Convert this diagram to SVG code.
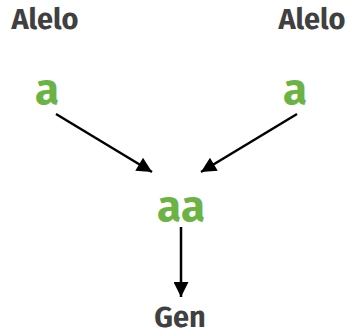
<svg xmlns="http://www.w3.org/2000/svg" width="347" height="335" viewBox="0 0 347 335">
<defs>
<marker id="ah" viewBox="0 0 10 10" refX="10" refY="5" markerWidth="8" markerHeight="6" markerUnits="strokeWidth" orient="auto">
<path d="M0,0 L10,5 L0,10 z" fill="#000"/>
</marker>
<style>
.lbl{font-family:"Fira Sans","Open Sans","Noto Sans",sans-serif;font-weight:bold;font-size:29px;fill:#404040;text-anchor:middle}
.gene{font-family:"Fira Sans","Open Sans","Noto Sans",sans-serif;font-weight:bold;font-size:44px;fill:#6ab344;text-anchor:middle}
.con{stroke:#000;stroke-width:2.5;fill:none;marker-end:url(#ah)}
</style>
</defs>
<rect width="347" height="335" fill="#fff"/>
<g id="alelo-left"><text class="lbl" x="45" y="29">Alelo</text></g>
<g id="alelo-right"><text class="lbl" x="312" y="29">Alelo</text></g>
<g id="a-left"><text class="gene" x="47" y="104">a</text></g>
<g id="a-right"><text class="gene" x="295" y="104">a</text></g>
<g id="aa"><text class="gene" x="181" y="221">aa</text></g>
<g id="gen"><text class="lbl" x="180" y="327">Gen</text></g>
<g id="connectors">
<line class="con" x1="56" y1="114" x2="152" y2="172"/>
<line class="con" x1="297" y1="114" x2="201" y2="172"/>
<line class="con" x1="181" y1="227" x2="181" y2="297"/>
</g>
</svg>
